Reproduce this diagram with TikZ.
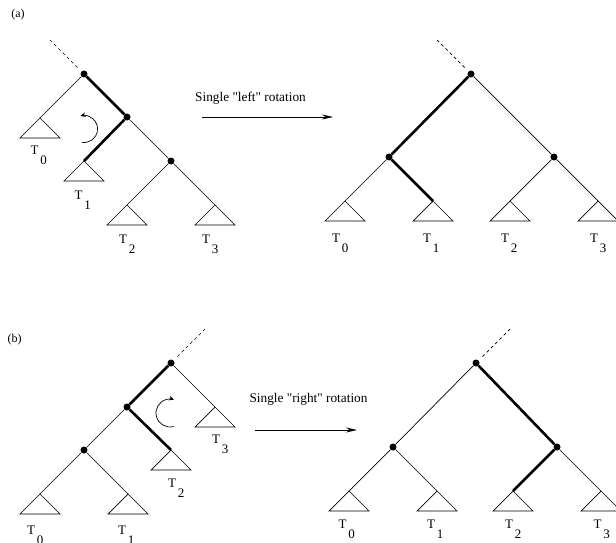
\documentclass[tikz,border=0pt]{standalone}
\usepackage{fontspec}
\setmainfont{Liberation Serif}
\newfontfamily\capfont{Liberation Serif}
\usetikzlibrary{arrows.meta}
\newcommand\mytlab[1]{T\rlap{\kern2pt\raisebox{-10pt}{#1}}}
\begin{document}
\begin{tikzpicture}[x=1pt,y=-1pt,
  edge/.style={line width=0.7pt},
  heavy/.style={line width=2.6pt},
  dot/.style={circle,fill=black,inner sep=0pt,minimum size=7pt},
  dashline/.style={line width=0.7pt,dash pattern=on 3pt off 3pt,shorten >=4pt},
  tri/.style={line width=0.7pt,line join=miter},
  tlab/.style={anchor=base,inner sep=0pt,font=\fontsize{13}{15}\selectfont},
  capt/.style={anchor=base,inner sep=0pt,font=\capfont\fontsize{13.3}{15}\selectfont},
  panel/.style={inner sep=0pt,font=\fontsize{12}{14}\selectfont},
  bigarrow/.style={line width=0.7pt,-{Stealth[length=11pt,width=5pt]}},
  turn/.style={line width=0.7pt,-{Stealth[length=5pt,width=4.5pt]}}
]
\useasboundingbox (0,0) rectangle (616,543);

% ---------------- panel (a) ----------------
\node[panel] (pa) at (18,15) {(a)};

% left tree
\node[dot] (a1) at (84,74) {};
\node[dot] (a2) at (127,117) {};
\node[dot] (a3) at (171,161) {};
\coordinate (a0) at (50,40);
\coordinate (ta0) at (40,118);
\coordinate (ta1) at (84,161);
\coordinate (ta2) at (127,205);
\coordinate (ta3) at (215,205);
\draw[dashline] (a0) -- (a1);
\draw[edge] (a1) -- (ta0);
\draw[heavy] (a1) -- (a2);
\draw[heavy] (a2) -- (ta1);
\draw[edge] (a2) -- (a3);
\draw[edge] (a3) -- (ta2);
\draw[edge] (a3) -- (ta3);
\foreach \t in {ta0,ta1,ta2,ta3}
  \draw[tri] (\t) -- ++(-20,20) -- ++(40,0) -- cycle;
\node[tlab] (la0) at (34.5,154) {\mytlab{0}};
\node[tlab] (la1) at (78.5,199) {\mytlab{1}};
\node[tlab] (la2) at (123,243) {\mytlab{2}};
\node[tlab] (la3) at (206,243) {\mytlab{3}};
\coordinate (rotA) at (81.7,142.3);
\draw[turn] (rotA) arc[start angle=100,end angle=-105,radius=13.5];

% arrow
\coordinate (arA1) at (202,117);
\coordinate (arA2) at (333,117);
\draw[bigarrow] (arA1) -- (arA2);
\node[capt,anchor=base west] (capA) at (195,101) {Single "left" rotation};

% right tree
\node[dot] (b1) at (471,74) {};
\node[dot] (b2) at (389,157) {};
\node[dot] (b3) at (554,157) {};
\coordinate (b0) at (437,40);
\coordinate (tb0) at (345,201);
\coordinate (tb1) at (433,201);
\coordinate (tb2) at (510,201);
\coordinate (tb3) at (598,201);
\draw[dashline] (b0) -- (b1);
\draw[heavy] (b1) -- (b2);
\draw[edge] (b1) -- (b3);
\draw[edge] (b2) -- (tb0);
\draw[heavy] (b2) -- (tb1);
\draw[edge] (b3) -- (tb2);
\draw[edge] (b3) -- (tb3);
\foreach \t in {tb0,tb1,tb2,tb3}
  \draw[tri] (\t) -- ++(-20,20) -- ++(40,0) -- cycle;
\node[tlab] (lb0) at (336,242) {\mytlab{0}};
\node[tlab] (lb1) at (427,242) {\mytlab{1}};
\node[tlab] (lb2) at (505,242) {\mytlab{2}};
\node[tlab] (lb3) at (594,242) {\mytlab{3}};

% ---------------- panel (b) ----------------
\node[panel] (pb) at (14.5,340) {(b)};

% left tree
\node[dot] (c1) at (171,363) {};
\node[dot] (c2) at (127,407) {};
\node[dot] (c3) at (84,450) {};
\coordinate (c0) at (205,329);
\coordinate (tc0) at (40,494);
\coordinate (tc1) at (128,494);
\coordinate (tc2) at (171,450);
\coordinate (tc3) at (215,407);
\draw[dashline] (c0) -- (c1);
\draw[heavy] (c1) -- (c2);
\draw[edge] (c1) -- (tc3);
\draw[heavy] (c2) -- (tc2);
\draw[edge] (c2) -- (c3);
\draw[edge] (c3) -- (tc0);
\draw[edge] (c3) -- (tc1);
\foreach \t in {tc0,tc1,tc2,tc3}
  \draw[tri] (\t) -- ++(-20,20) -- ++(40,0) -- cycle;
\node[tlab] (lc0) at (31,534) {\mytlab{0}};
\node[tlab] (lc1) at (122,534) {\mytlab{1}};
\node[tlab] (lc2) at (172,487) {\mytlab{2}};
\node[tlab] (lc3) at (216,443) {\mytlab{3}};
\coordinate (rotB) at (173.6,426.5);
\draw[turn] (rotB) arc[start angle=75,end angle=287,radius=14];

% arrow
\coordinate (arB1) at (255,430);
\coordinate (arB2) at (357,430);
\draw[bigarrow] (arB1) -- (arB2);
\node[capt] (capB) at (308.5,402) {Single "right" rotation};

% right tree
\node[dot] (d1) at (476,363) {};
\node[dot] (d2) at (393,447) {};
\node[dot] (d3) at (557,447) {};
\coordinate (d0) at (510,329);
\coordinate (td0) at (349,491);
\coordinate (td1) at (437,491);
\coordinate (td2) at (513,491);
\coordinate (td3) at (601,491);
\draw[dashline] (d0) -- (d1);
\draw[edge] (d1) -- (d2);
\draw[heavy] (d1) -- (d3);
\draw[edge] (d2) -- (td0);
\draw[edge] (d2) -- (td1);
\draw[heavy] (d3) -- (td2);
\draw[edge] (d3) -- (td3);
\foreach \t in {td0,td1,td2,td3}
  \draw[tri] (\t) -- ++(-20,20) -- ++(40,0) -- cycle;
\node[tlab] (ld0) at (342.5,528) {\mytlab{0}};
\node[tlab] (ld1) at (431,528) {\mytlab{1}};
\node[tlab] (ld2) at (509,528) {\mytlab{2}};
\node[tlab] (ld3) at (597.5,528) {\mytlab{3}};
\end{tikzpicture}
\end{document}
